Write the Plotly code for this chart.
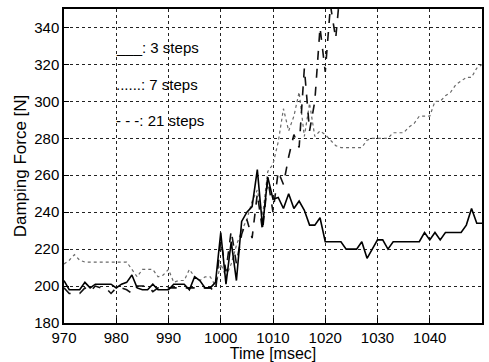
import plotly.graph_objects as go

time_ms = list(range(970, 1051))

steps3 = [203, 198, 198, 198, 202, 199, 201, 201, 201, 201,
          199, 201, 202, 206, 199, 198, 198, 201, 198, 198,
          198, 201, 201, 201, 198, 205, 203, 199, 199, 202,
          229, 201, 224, 203, 235, 240, 243, 263, 232, 259,
          247, 248, 242, 250, 242, 246, 241, 233, 233, 237,
          224, 224, 224, 224, 220, 220, 220, 224, 215, 220,
          225, 225, 220, 224, 224, 224, 224, 224, 224, 229,
          225, 229, 225, 229, 229, 229, 229, 233, 242, 234,
          234]

steps7 = [212, 214, 217, 214, 213, 213, 213, 213, 213, 213,
          213, 213, 213, 209, 205, 209, 209, 209, 205, 206,
          209, 202, 203, 203, 209, 205, 203, 205, 205, 200,
          212, 205, 212, 222, 230, 236, 246, 252, 238, 262,
          266, 278, 296, 284, 292, 305, 281, 299, 281, 284,
          282, 279, 276, 275, 275, 275, 275, 275, 279, 280,
          280, 280, 280, 283, 283, 283, 286, 288, 292, 292,
          292, 300, 300, 303, 305, 309, 311, 313, 313, 318,
          320]

steps21 = [199, 196, 196, 196, 199, 197, 200, 199, 199, 196,
           199, 199, 198, 196, 200, 200, 200, 197, 199, 199,
           199, 199, 199, 199, 199, 199, 199, 199, 199, 197,
           225, 208, 230, 212, 228, 236, 226, 250, 230, 258,
           240, 262, 255, 270, 282, 275, 318, 284, 300, 340,
           316, 352, 334, 365]

legend_labels = ["___: 3 steps", "......: 7 steps", "- - -: 21 steps"]
x_ticks = [970, 980, 990, 1000, 1010, 1020, 1030, 1040]
y_ticks = [180, 200, 220, 240, 260, 280, 300, 320, 340]

fig = go.Figure()
fig.add_trace(go.Scatter(x=time_ms[:len(steps7)], y=steps7, mode="lines",
                         line=dict(color="#6a6a6a", width=1.2, dash="dot")))
fig.add_trace(go.Scatter(x=time_ms[:len(steps21)], y=steps21, mode="lines",
                         line=dict(color="#111111", width=1.6, dash="dash")))
fig.add_trace(go.Scatter(x=time_ms[:len(steps3)], y=steps3, mode="lines",
                         line=dict(color="#000000", width=1.6)))

font = "Liberation Sans, Arial, Helvetica, sans-serif"
ann_y = [0.877, 0.760, 0.645]
for lbl, yy in zip(legend_labels, ann_y):
    fig.add_annotation(text=lbl, xref="paper", yref="paper", x=0.119, y=yy,
                       xanchor="left", yanchor="middle", showarrow=False,
                       font=dict(size=15, color="#000", family=font))

axis_common = dict(showgrid=True, gridcolor="#222222", gridwidth=0.9, griddash="dot",
                   showline=True, linecolor="#000", linewidth=1.5, mirror=True,
                   ticks="inside", ticklen=5, tickcolor="#000", zeroline=False,
                   tickfont=dict(size=15, color="#000", family=font))

fig.update_xaxes(range=[970, 1050], tickvals=x_ticks,
                 title=dict(text="Time [msec]", font=dict(size=16, color="#000", family=font),
                            standoff=0),
                 **axis_common)
fig.update_yaxes(range=[180, 350], tickvals=y_ticks,
                 title=dict(text="Damping Force [N]", font=dict(size=17, color="#000", family=font),
                            standoff=3),
                 **axis_common)

fig.update_layout(width=489, height=362, showlegend=False,
                  margin=dict(l=64, r=5, t=9, b=39),
                  plot_bgcolor="white", paper_bgcolor="white")

fig.write_html("out.html")
